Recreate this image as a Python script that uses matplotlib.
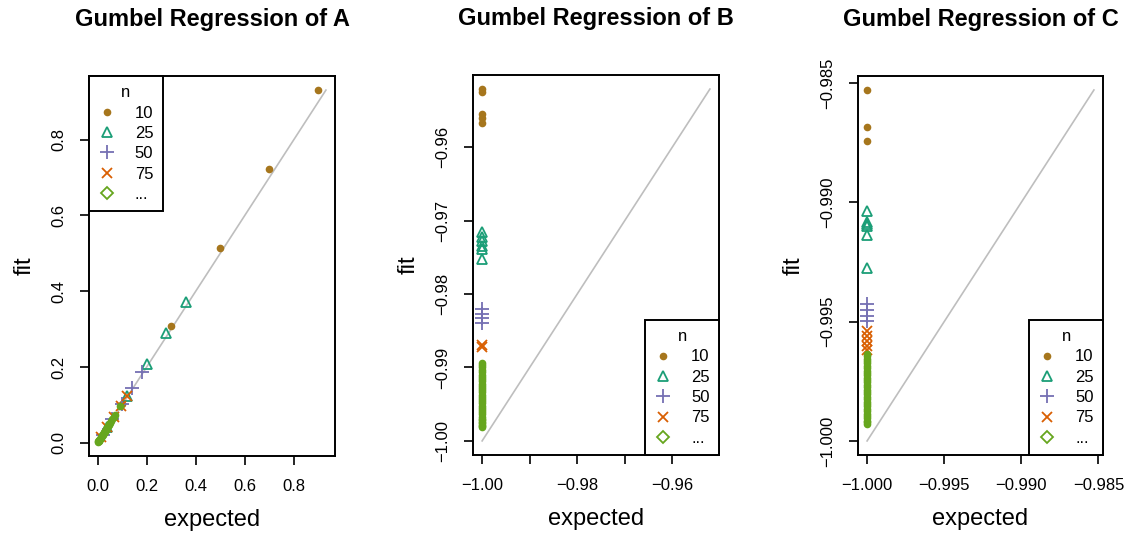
import matplotlib
matplotlib.use('Agg')
import matplotlib.pyplot as plt
from matplotlib.lines import Line2D

plt.rcParams['font.family'] = ['Liberation Sans', 'DejaVu Sans']

group_labels = ['10', '25', '50', '75', '...']
group_colors = ['#A6761D', '#1B9E77', '#7570B3', '#D95F02', '#66A61E']

# ---- A ----
a10_exp = [0.9, 0.7, 0.5, 0.3, 0.1]
a10_fit = [0.931, 0.723, 0.513, 0.308, 0.103]
a25_exp = [0.36, 0.28, 0.2, 0.12, 0.04]
a25_fit = [0.372, 0.290, 0.207, 0.124, 0.041]
a50_exp = [0.18, 0.14, 0.10, 0.06, 0.02]
a50_fit = [0.186, 0.145, 0.103, 0.062, 0.021]
a75_exp = [0.12, 0.0933, 0.0667, 0.04, 0.0133]
a75_fit = [0.124, 0.096, 0.069, 0.041, 0.014]
aoth_exp = [0.09, 0.07, 0.065, 0.06, 0.055, 0.05, 0.047, 0.045, 0.042, 0.04,
            0.037, 0.035, 0.033, 0.03, 0.028, 0.026, 0.024, 0.022, 0.02, 0.018,
            0.016, 0.014, 0.012, 0.01, 0.009, 0.008, 0.007, 0.006, 0.005, 0.004,
            0.003, 0.002]
aoth_fit = [0.097, 0.074, 0.068, 0.063, 0.058, 0.052, 0.049, 0.047, 0.044, 0.042,
            0.039, 0.036, 0.034, 0.031, 0.029, 0.027, 0.025, 0.023, 0.021, 0.019,
            0.017, 0.015, 0.013, 0.011, 0.0095, 0.0085, 0.0074, 0.0063, 0.0053, 0.0042,
            0.0032, 0.0021]

# ---- B ----
b10_exp = [-1.0, -1.0, -1.0, -1.0, -1.0]
b10_fit = [-0.9521, -0.9525, -0.9555, -0.9561, -0.9567]
b25_exp = [-1.0, -1.0, -1.0, -1.0, -1.0, -1.0]
b25_fit = [-0.9716, -0.9722, -0.9728, -0.9735, -0.9739, -0.9753]
b50_exp = [-1.0, -1.0, -1.0, -1.0]
b50_fit = [-0.9821, -0.9827, -0.9832, -0.9839]
b75_exp = [-1.0, -1.0]
b75_fit = [-0.9869, -0.9872]
both_fit = [-0.9894, -0.9897, -0.9900, -0.9903, -0.9906, -0.9910, -0.9913, -0.9916,
            -0.9919, -0.9922, -0.9925, -0.9928, -0.9931, -0.9934, -0.9937, -0.9940,
            -0.9943, -0.9946, -0.9949, -0.9952, -0.9955, -0.9958, -0.9961, -0.9964,
            -0.9967, -0.9970, -0.9972, -0.9974, -0.9976, -0.9978, -0.9980, -0.9981]
both_exp = [-1.0] * len(both_fit)

# ---- C ----
c10_exp = [-1.0, -1.0, -1.0]
c10_fit = [-0.98529, -0.98684, -0.98742]
c25_exp = [-1.0, -1.0, -1.0, -1.0, -1.0, -1.0]
c25_fit = [-0.99038, -0.99081, -0.99089, -0.99101, -0.99135, -0.99277]
c50_exp = [-1.0, -1.0, -1.0, -1.0]
c50_fit = [-0.99428, -0.99452, -0.99477, -0.99498]
c75_exp = [-1.0, -1.0, -1.0, -1.0, -1.0]
c75_fit = [-0.99540, -0.99561, -0.99582, -0.99603, -0.99620]
coth_fit = [-0.99636, -0.99645, -0.99655, -0.99665, -0.99675, -0.99685, -0.99695,
            -0.99705, -0.99715, -0.99725, -0.99735, -0.99745, -0.99755, -0.99765,
            -0.99775, -0.99785, -0.99795, -0.99805, -0.99815, -0.99825, -0.99835,
            -0.99845, -0.99855, -0.99865, -0.99875, -0.99885, -0.99895, -0.99905,
            -0.99915, -0.99922, -0.99929]
coth_exp = [-1.0] * len(coth_fit)

panels = [
    ('A', [(a10_exp, a10_fit), (a25_exp, a25_fit), (a50_exp, a50_fit),
           (a75_exp, a75_fit), (aoth_exp, aoth_fit)],
     [0.0, 0.2, 0.4, 0.6, 0.8], ['0.0', '0.2', '0.4', '0.6', '0.8'],
     [0.0, 0.2, 0.4, 0.6, 0.8], ['0.0', '0.2', '0.4', '0.6', '0.8'], 'upper left'),
    ('B', [(b10_exp, b10_fit), (b25_exp, b25_fit), (b50_exp, b50_fit),
           (b75_exp, b75_fit), (both_exp, both_fit)],
     [-1.0, -0.99, -0.98, -0.97, -0.96], ['\u22121.00', '', '\u22120.98', '', '\u22120.96'],
     [-1.0, -0.99, -0.98, -0.97, -0.96],
     ['\u22121.00', '\u22120.99', '\u22120.98', '\u22120.97', '\u22120.96'], 'lower right'),
    ('C', [(c10_exp, c10_fit), (c25_exp, c25_fit), (c50_exp, c50_fit),
           (c75_exp, c75_fit), (coth_exp, coth_fit)],
     [-1.0, -0.995, -0.99, -0.985],
     ['\u22121.000', '\u22120.995', '\u22120.990', '\u22120.985'],
     [-1.0, -0.995, -0.99, -0.985],
     ['\u22121.000', '\u22120.995', '\u22120.990', '\u22120.985'], 'lower right'),
]

positions = [[0.0788, 0.1571, 0.2177, 0.7024],
             [0.4186, 0.1590, 0.2177, 0.7024],
             [0.7593, 0.1590, 0.2168, 0.7006]]

markers = [dict(marker='o', markersize=5.5, markeredgewidth=0),
           dict(marker='^', markersize=7.5, markerfacecolor='none', markeredgewidth=1.3),
           dict(marker='+', markersize=9.5, markeredgewidth=1.3),
           dict(marker='x', markersize=6.5, markeredgewidth=1.3),
           dict(marker='o', markersize=5.5, markeredgewidth=0)]
legend_markers = markers[:4] + [dict(marker='D', markersize=6.5, markerfacecolor='none',
                                     markeredgewidth=1.3)]

fig = plt.figure(figsize=(11.3, 5.41), dpi=100)

for (name, groups, xt, xl, yt, yl, loc), pos in zip(panels, positions):
    ax = fig.add_axes(pos)
    allv = []
    for e, f in groups:
        allv += list(e) + list(f)
    lo, hi = min(allv), max(allv)
    # identity line
    ax.plot([lo, hi], [lo, hi], color='#BEBEBE', lw=1.2, zorder=1)
    for (e, f), c, m in zip(groups, group_colors, markers):
        kw = dict(m)
        if kw['marker'] == 'o':
            kw['markerfacecolor'] = c
        ax.plot(e, f, linestyle='none', color=c, zorder=2, **kw)
    ax.margins(0.04)
    ax.set_xticks(xt)
    ax.set_xticklabels(xl)
    ax.set_yticks(yt)
    ax.set_yticklabels(yl, rotation=90, va='center')
    ax.tick_params(length=6.5, width=1.2, labelsize=12, pad=10)
    for s in ax.spines.values():
        s.set_linewidth(1.4)
    ax.set_title('Gumbel Regression of ' + name, fontsize=17, fontweight='bold', pad=36)
    ax.set_xlabel('expected', fontsize=17, labelpad=11)
    ax.set_ylabel('fit', fontsize=17, labelpad=11)

    handles = []
    for c, m in zip(group_colors, legend_markers):
        kw = dict(m)
        if kw['marker'] == 'o':
            kw['markerfacecolor'] = c
        handles.append(Line2D([], [], linestyle='none', color=c, **kw))
    leg = ax.legend(handles, group_labels, title='n', loc=loc, borderaxespad=0,
                    fancybox=False, framealpha=1, edgecolor='black', fontsize=12,
                    title_fontsize=12, borderpad=0.55, handlelength=1.0,
                    handletextpad=1.2, labelspacing=0.32)
    leg.get_frame().set_linewidth(1.4)

fig.savefig('out.png', dpi=100)
